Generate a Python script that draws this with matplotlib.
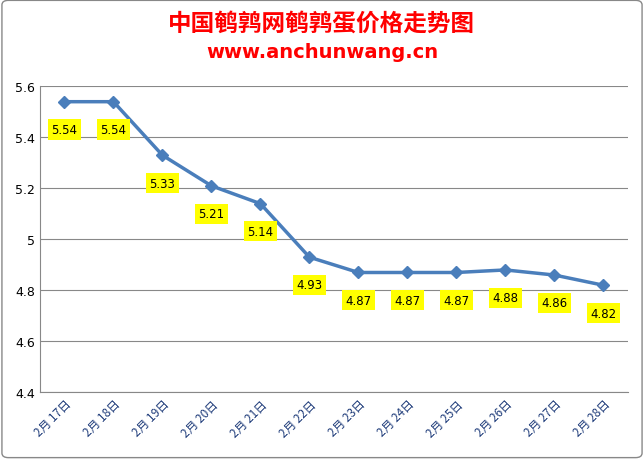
import matplotlib.pyplot as plt
from matplotlib.patches import FancyBboxPatch

plt.rcParams['font.family'] = ['Noto Sans CJK SC', 'DejaVu Sans']

dates = ["2月 17日", "2月 18日", "2月 19日", "2月 20日", "2月 21日", "2月 22日",
         "2月 23日", "2月 24日", "2月 25日", "2月 26日", "2月 27日", "2月 28日"]
prices = [5.54, 5.54, 5.33, 5.21, 5.14, 4.93, 4.87, 4.87, 4.87, 4.88, 4.86, 4.82]
yticks = [4.4, 4.6, 4.8, 5.0, 5.2, 5.4, 5.6]
ytick_labels = ["4.4", "4.6", "4.8", "5", "5.2", "5.4", "5.6"]

fig = plt.figure(figsize=(6.44, 4.60), dpi=100)
fig.patches.append(FancyBboxPatch((0.003, 0.003), 0.994, 0.994,
                                  boxstyle="round,pad=0,rounding_size=0.01",
                                  transform=fig.transFigure, fill=False,
                                  edgecolor="#888888", linewidth=1))
ax = fig.add_axes([0.062, 0.145, 0.913, 0.665])

x = list(range(len(dates)))
ax.plot(x, prices, color="#4A7EBB", linewidth=2.5, marker='D', markersize=6)
for xi, p in zip(x, prices):
    ax.annotate(f"{p:.2f}", (xi, p), xytext=(0, -20), textcoords="offset points",
                ha="center", va="center", fontsize=8.5, family="DejaVu Sans",
                bbox=dict(boxstyle="square,pad=0.3", facecolor="#FFFF00", edgecolor="none"))

ax.set_xlim(-0.5, len(dates) - 0.5)
ax.set_ylim(4.4, 5.6)
ax.set_yticks(yticks)
ax.set_yticklabels(ytick_labels, fontsize=9, family="DejaVu Sans")
ax.set_xticks(x)
ax.set_xticklabels(dates, rotation=45, ha="right", rotation_mode="anchor",
                   fontsize=8.5, color="#1F3C7A")
ax.grid(axis='y', color="#888888", linewidth=0.8)
ax.set_axisbelow(True)
for s in ["top", "right"]:
    ax.spines[s].set_visible(False)
ax.spines["left"].set_color("#888888")
ax.spines["bottom"].set_color("#888888")
ax.tick_params(length=0)

fig.text(0.5, 0.948, "中国鹌鹑网鹌鹑蛋价格走势图", ha="center", va="center",
         fontsize=17, color="#FF0000", fontweight="bold")
fig.text(0.5, 0.885, "www.anchunwang.cn", ha="center", va="center",
         fontsize=14, color="#FF0000", fontweight="bold", family="DejaVu Sans")

fig.savefig("out.png", dpi=100)
